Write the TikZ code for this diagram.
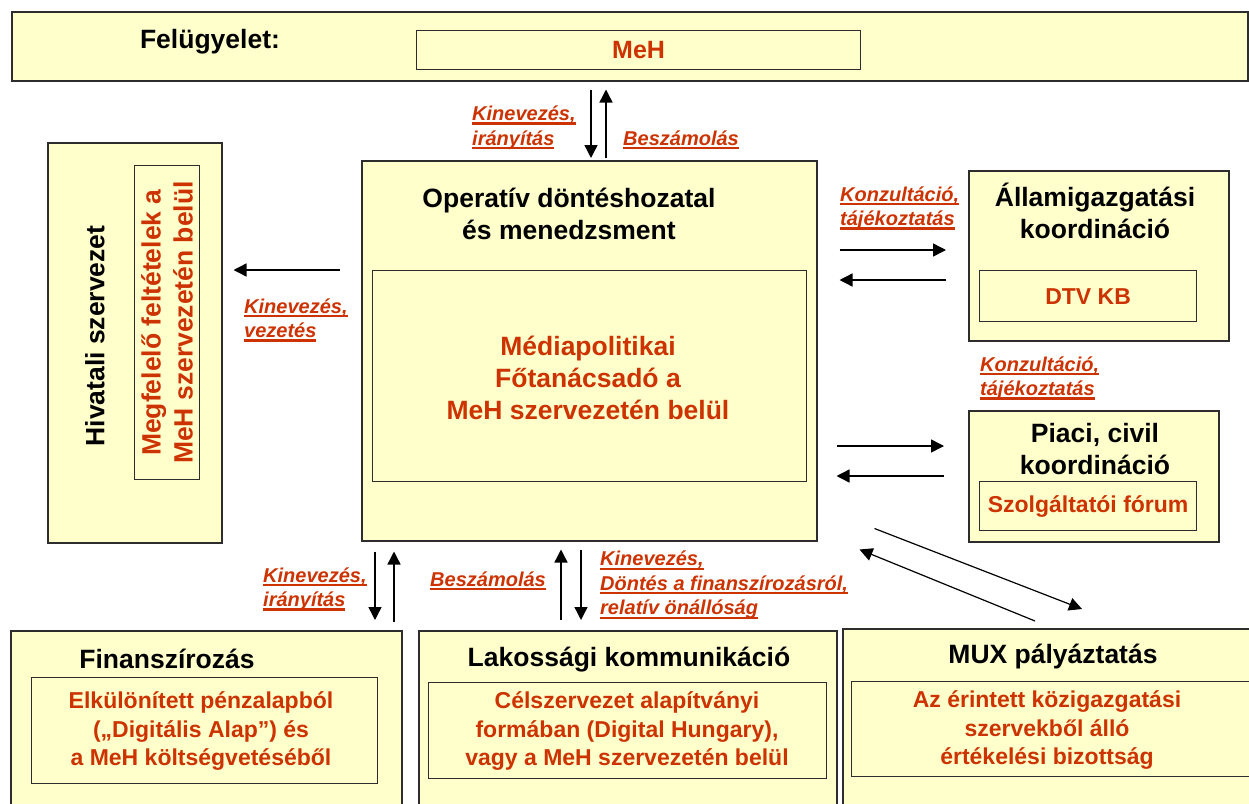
\documentclass[tikz,border=0pt]{standalone}
\usepackage{fontspec}
\setmainfont{Liberation Sans}
\usetikzlibrary{arrows.meta,calc}
\definecolor{boxfill}{RGB}{255,255,204}
\definecolor{hlred}{RGB}{204,51,0}
\definecolor{edge}{RGB}{45,45,45}
% underlined label line with a thick rule in the text colour
\newcommand\uln[1]{\leavevmode\setbox0=\hbox{#1}\rlap{\rule[-4pt]{\wd0}{2.2pt}}\box0}
\begin{document}
\begin{tikzpicture}[x=1pt,y=-1pt,
  box/.style={draw=edge, fill=boxfill, line width=1.5pt, inner sep=0pt, anchor=north west},
  inbox/.style={draw=edge, line width=1.2pt, inner sep=0pt, anchor=north west},
  head/.style={font=\fontsize{26.5}{32}\selectfont\bfseries, align=center, inner sep=0pt},
  big/.style={head, text=hlred},
  small/.style={font=\fontsize{23}{28.5}\selectfont\bfseries, text=hlred, align=center, inner sep=0pt},
  lbl/.style={font=\fontsize{20}{24.5}\selectfont\bfseries\itshape, text=hlred, align=left, anchor=west, inner sep=0pt},
  arr/.style={-{Triangle[length=13pt,width=13pt]}, line width=1.4pt, draw=black}]
\useasboundingbox (0,0) rectangle (1249,803);
\clip (0,0) rectangle (1249,803);

% supervision band
\node[box, minimum width=1236pt, minimum height=69pt] (top) at (11,11) {};
\node[inbox, minimum width=444pt, minimum height=39pt] (meh) at (416,30) {};
\node[big, font=\fontsize{25}{30}\selectfont\bfseries] (mehtxt) at (meh.center) {MeH};
\node[head] (felu) at (210,42) {Felügyelet:};

% central decision box
\node[box, minimum width=455pt, minimum height=380pt] (op) at (361,160) {};
\node[head] (optitle) at (569,214) {Operatív döntéshozatal\\és menedzsment};
\node[inbox, minimum width=434pt, minimum height=211pt] (opin) at (372,270) {};
\node[big] (optxt) at (588,378) {Médiapolitikai\\Főtanácsadó a\\MeH szervezetén belül};

% office organisation (vertical)
\node[box, minimum width=174pt, minimum height=400pt] (hv) at (47,142) {};
\node[inbox, minimum width=65pt, minimum height=314pt] (hvin) at (134,165) {};
\node[head, rotate=90] (hvt) at (95,336) {Hivatali szervezet};
\node[big, rotate=90] (hvtxt) at (hvin.center) {Megfelelő feltételek a\\MeH szervezetén belül};

% coordination boxes on the right
\node[box, minimum width=260pt, minimum height=170pt] (allam) at (968,170) {};
\node[head] (allamt) at (1095,211) {Államigazgatási\\koordináció};
\node[inbox, minimum width=217pt, minimum height=51pt] (dtv) at (979,270) {};
\node[small] (dtvt) at (dtv.center) {DTV KB};

\node[box, minimum width=250pt, minimum height=131pt] (piaci) at (968,410) {};
\node[head] (piacit) at (1095,449) {Piaci, civil\\koordináció};
\node[inbox, minimum width=217pt, minimum height=49pt] (forum) at (979,481) {};
\node[small] (forumt) at (forum.center) {Szolgáltatói fórum};

% bottom row
\node[box, minimum width=391pt, minimum height=200pt] (fin) at (10,630) {};
\node[head] (fint) at (167,659) {Finanszírozás};
\node[inbox, minimum width=346pt, minimum height=106pt] (finin) at (31,677) {};
\node[small] (fintxt) at (201,731) {Elkülönített pénzalapból\\(„Digitális Alap”) és\\a MeH költségvetéséből};

\node[box, minimum width=418pt, minimum height=200pt] (lak) at (418,630) {};
\node[head] (lakt) at (629,660) {Lakossági kommunikáció};
\node[inbox, minimum width=398pt, minimum height=96pt] (lakin) at (428,682) {};
\node[small] (laktxt) at (627,731) {Célszervezet alapítványi\\formában (Digital Hungary),\\vagy a MeH szervezetén belül};

\node[box, minimum width=420pt, minimum height=200pt] (mux) at (842,628) {};
\node[head] (muxt) at (1053,657) {MUX pályáztatás};
\node[inbox, minimum width=420pt, minimum height=95pt] (muxin) at (851,681) {};
\node[small] (muxtxt) at (1047,730) {Az érintett közigazgatási\\szervekből álló\\értékelési bizottság};

% guide coordinates for the connectors
\coordinate (ax1) at (591,0);
\coordinate (ax2) at (606,0);
\coordinate (ay1) at (0,270);
\coordinate (ay2) at (0,250);
\coordinate (ay3) at (0,280);
\coordinate (ay4) at (0,446);
\coordinate (ay5) at (0,476);
\coordinate (bx1) at (375,0);
\coordinate (bx2) at (394,0);
\coordinate (bx3) at (561,0);
\coordinate (bx4) at (581,0);

% connectors
\draw[arr, shorten <=8pt, shorten >=2pt] (ax1 |- top.south) -- (ax1 |- op.north);
\draw[arr, shorten <=2pt, shorten >=8pt] (ax2 |- op.north) -- (ax2 |- top.south);
\draw[arr, shorten <=21pt, shorten >=11pt] (op.west |- ay1) -- (hv.east |- ay1);
\draw[arr, shorten <=22pt, shorten >=22pt] (op.east |- ay2) -- (allam.west |- ay2);
\draw[arr, shorten <=22pt, shorten >=22pt] (allam.west |- ay3) -- (op.east |- ay3);
\draw[arr, shorten <=19pt, shorten >=24pt] (op.east |- ay4) -- (piaci.west |- ay4);
\draw[arr, shorten <=24pt, shorten >=19pt] (piaci.west |- ay5) -- (op.east |- ay5);
\draw[arr, shorten <=10pt, shorten >=10pt] (bx1 |- op.south) -- (bx1 |- fin.north);
\draw[arr, shorten <=8pt, shorten >=10pt] (bx2 |- fin.north) -- (bx2 |- op.south);
\draw[arr, shorten <=10pt, shorten >=8pt] (bx3 |- lak.north) -- (bx3 |- op.south);
\draw[arr, shorten <=8pt, shorten >=10pt] (bx4 |- op.south) -- (bx4 |- lak.north);
\draw[arr, line width=1.2pt] ($(op.south east)+(57,-13)$) -- ($(mux.north west)+(240,-19)$);
\draw[arr, line width=1.2pt] ($(mux.north west)+(193,-7)$) -- ($(op.south east)+(42,8)$);

% connector labels
\node[lbl] (l1) at (472,127.5) {\uln{Kinevezés,}\\\uln{irányítás}};
\node[lbl] (l2) at (623,140) {\uln{Beszámolás}};
\node[lbl] (l3) at (244,320) {\uln{Kinevezés,}\\\uln{vezetés}};
\node[lbl] (l4) at (840,208) {\uln{Konzultáció,}\\\uln{tájékoztatás}};
\node[lbl] (l5) at (980,378) {\uln{Konzultáció,}\\\uln{tájékoztatás}};
\node[lbl] (l6) at (263,589) {\uln{Kinevezés,}\\\uln{irányítás}};
\node[lbl] (l7) at (430,581) {\uln{Beszámolás}};
\node[lbl] (l8) at (600,585) {\uln{Kinevezés,}\\\uln{Döntés a finanszírozásról,}\\\uln{relatív önállóság}};
\end{tikzpicture}
\end{document}
